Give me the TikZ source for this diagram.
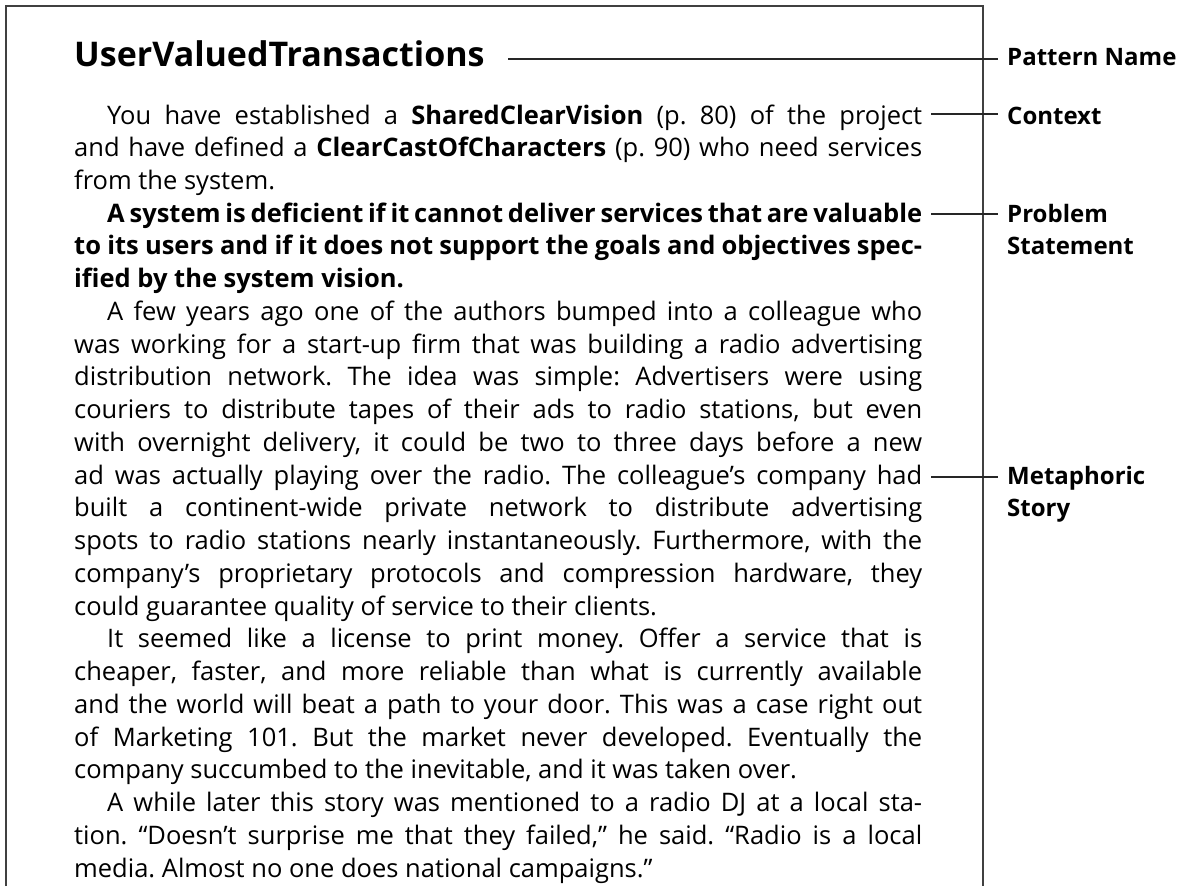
\documentclass[tikz,border=0pt]{standalone}
\usepackage{fontspec}
\setmainfont{Open Sans}
\frenchspacing
\begin{document}
\begin{tikzpicture}[x=1pt,y=-1pt,
  body/.style={font=\fontsize{25.5}{25.5}\selectfont, anchor=base west, inner sep=0pt},
  lbl/.style={font=\fontsize{24}{32.74}\selectfont\bfseries, anchor=base west, inner ysep=0pt, inner xsep=9pt, align=left},
  conn/.style={line width=1.1pt, black!85},
  frame/.style={line width=1.2pt, black!75}]
\useasboundingbox (0,0) rectangle (1190,886);
% frame
\draw[frame] (6,886) -- (6,6) -- (983,6) -- (983,886);
% title
\node[font=\fontsize{34}{34}\selectfont\bfseries, anchor=base west, inner sep=0pt] (title) at (74,66) {UserValuedTransactions};
% body lines
\node[body] (l1) at (107,124) {\makebox[815pt][s]{You have established a \textbf{SharedClearVision} (p. 80) of the project}};
\node[body] (l2) at (74,156.74) {\makebox[848pt][s]{and have defined a \textbf{ClearCastOfCharacters} (p. 90) who need services}};
\node[body] (l3) at (74,189.48) {from the system.};
\node[body] (l4) at (107,222.22) {\makebox[815pt][s]{\bfseries A system is deficient if it cannot deliver services that are valuable}};
\node[body] (l5) at (74,254.96) {\makebox[848pt][s]{\bfseries to its users and if it does not support the goals and objectives spec-}};
\node[body] (l6) at (74,287.70) {\bfseries ified by the system vision.};
\node[body] (l7) at (107,320.44) {\makebox[815pt][s]{A few years ago one of the authors bumped into a colleague who}};
\node[body] (l8) at (74,353.18) {\makebox[848pt][s]{was working for a start-up firm that was building a radio advertising}};
\node[body] (l9) at (74,385.92) {\makebox[848pt][s]{distribution network. The idea was simple: Advertisers were using}};
\node[body] (l10) at (74,418.66) {\makebox[848pt][s]{couriers to distribute tapes of their ads to radio stations, but even}};
\node[body] (l11) at (74,451.40) {\makebox[848pt][s]{with overnight delivery, it could be two to three days before a new}};
\node[body] (l12) at (74,484.14) {\makebox[848pt][s]{ad was actually playing over the radio. The colleague’s company had}};
\node[body] (l13) at (74,516.88) {\makebox[848pt][s]{built a continent-wide private network to distribute advertising}};
\node[body] (l14) at (74,549.62) {\makebox[848pt][s]{spots to radio stations nearly instantaneously. Furthermore, with the}};
\node[body] (l15) at (74,582.36) {\makebox[848pt][s]{company’s proprietary protocols and compression hardware, they}};
\node[body] (l16) at (74,615.10) {could guarantee quality of service to their clients.};
\node[body] (l17) at (107,647.84) {\makebox[815pt][s]{It seemed like a license to print money. Offer a service that is}};
\node[body] (l18) at (74,680.58) {\makebox[848pt][s]{cheaper, faster, and more reliable than what is currently available}};
\node[body] (l19) at (74,713.32) {\makebox[848pt][s]{and the world will beat a path to your door. This was a case right out}};
\node[body] (l20) at (74,746.06) {\makebox[848pt][s]{of Marketing 101. But the market never developed. Eventually the}};
\node[body] (l21) at (74,778.80) {company succumbed to the inevitable, and it was taken over.};
\node[body] (l22) at (107,811.54) {\makebox[815pt][s]{A while later this story was mentioned to a radio DJ at a local sta-}};
\node[body] (l23) at (74,844.28) {\makebox[848pt][s]{tion. “Doesn’t surprise me that they failed,” he said. “Radio is a local}};
\node[body] (l24) at (74,877.02) {media. Almost no one does national campaigns.”};
% labels (base anchor of a two-line node sits on its last line)
\node[lbl] (pname) at (998,65) {Pattern Name};
\node[lbl] (ctx) at (998,124) {Context};
\node[lbl] (prob) at (998,254.96) {Problem\\Statement};
\node[lbl] (meta) at (998,516.88) {Metaphoric\\Story};
% connector anchors
\coordinate (tl) at (508,59);
\coordinate (c1) at (931,114);
\coordinate (c2) at (931,214);
\coordinate (c3) at (931,477);
\draw[conn, line width=1.4pt] (tl) -- (tl -| pname.west);
\draw[conn] (c1) -- (c1 -| ctx.west);
\draw[conn] (c2) -- (c2 -| prob.west);
\draw[conn] (c3) -- (c3 -| meta.west);
\end{tikzpicture}
\end{document}
